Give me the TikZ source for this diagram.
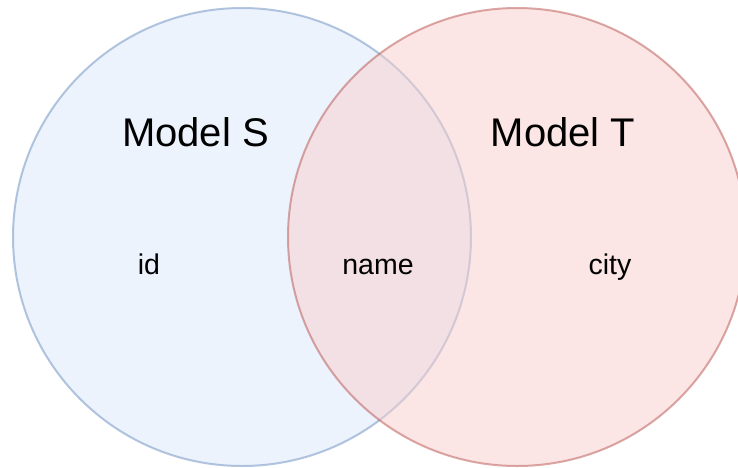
\documentclass[tikz,border=0pt]{standalone}
\usepackage{fontspec}
\setmainfont{Liberation Sans}
\definecolor{sfill}{HTML}{DAE8FC}
\definecolor{sline}{HTML}{6C8EBF}
\definecolor{tfill}{HTML}{F8CECC}
\definecolor{tline}{HTML}{B85450}
\tikzset{
  setcircle/.style={circle, inner sep=0pt, minimum size=458pt, line width=2pt,
    fill opacity=0.5, draw opacity=0.5},
  title/.style={anchor=base, font=\fontsize{40}{48}\selectfont, text=black},
  member/.style={anchor=base, font=\fontsize{28.5}{34}\selectfont, text=black},
}
\begin{document}
\begin{tikzpicture}[x=1pt, y=-1pt]
  \clip (0,0) rectangle (738,467);
  \fill[white] (0,0) rectangle (738,467);
  % the two overlapping sets
  \node[setcircle, draw=sline, fill=sfill] (S) at (242,237) {};
  \node[setcircle, draw=tline, fill=tfill] (T) at (517,237) {};
  % set titles
  \node[title] (sname) at (195.5,146) {Model S};
  \node[title] (tname) at (563,146) {Model T};
  % members
  \node[member] (id) at (149,274) {id};
  \node[member] (name) at (378,274) {name};
  \node[member] (city) at (610,274) {city};
\end{tikzpicture}
\end{document}
